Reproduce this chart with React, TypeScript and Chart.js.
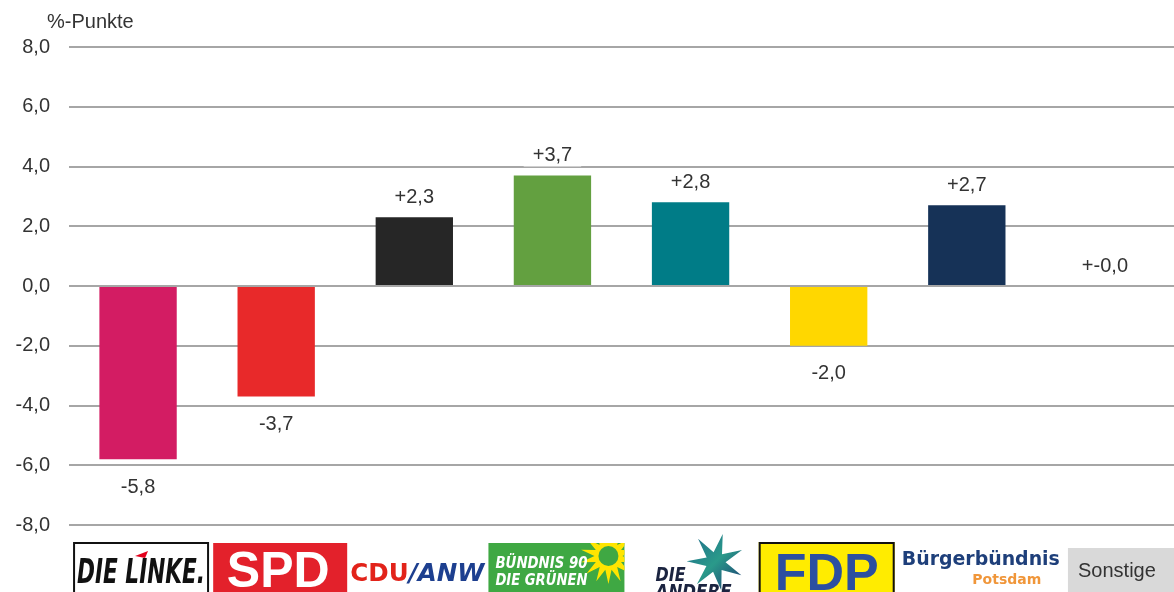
import React, { useEffect, useRef } from 'react';
import { Chart, registerables } from 'chart.js';
Chart.register(...registerables);

const parties = ['DIE LINKE', 'SPD', 'CDU/ANW', 'BÜNDNIS 90/DIE GRÜNEN', 'DIE ANDERE', 'FDP', 'Bürgerbündnis Potsdam', 'Sonstige'];
const changes = [-5.8, -3.7, 2.3, 3.7, 2.8, -2.0, 2.7, 0.0];
const barColors = ['#d31c63', '#e8292a', '#262626', '#63a040', '#007c87', '#ffd700', '#163257', 'rgba(0,0,0,0)'];
const yMin = -8;
const yMax = 8;
const yStep = 2;
const unitLabel = '%-Punkte';

const FONT = "'Liberation Sans', Arial, sans-serif";
const TEXT = '#333333';

const fmt = (v: number) => v.toFixed(1).replace('.', ',');
const valueLabel = (v: number) => (v === 0 ? '+-0,0' : v > 0 ? '+' + fmt(v) : fmt(v));

function fitText(ctx: CanvasRenderingContext2D, text: string, x: number, y: number, maxW: number, align: CanvasTextAlign = 'center') {
  const w = ctx.measureText(text).width;
  const s = w > maxW ? maxW / w : 1;
  ctx.save();
  ctx.translate(x, y);
  ctx.scale(s, 1);
  ctx.textAlign = align;
  ctx.fillText(text, 0, 0);
  ctx.restore();
}

function star(ctx: CanvasRenderingContext2D, cx: number, cy: number, n: number, ro: number, ri: number, rot = -Math.PI / 2) {
  ctx.beginPath();
  for (let i = 0; i < n * 2; i++) {
    const r = i % 2 === 0 ? ro : ri;
    const a = rot + (i * Math.PI) / n;
    const px = cx + Math.cos(a) * r;
    const py = cy + Math.sin(a) * r;
    if (i === 0) ctx.moveTo(px, py);
    else ctx.lineTo(px, py);
  }
  ctx.closePath();
}

function drawLogo(ctx: CanvasRenderingContext2D, i: number, c: number) {
  const top = 542;
  const bot = 594;
  ctx.save();
  ctx.textBaseline = 'middle';
  switch (i) {
    case 0: {
      const x0 = c - 65, x1 = c + 71;
      ctx.fillStyle = '#fff';
      ctx.fillRect(x0, top, x1 - x0, bot - top);
      ctx.strokeStyle = '#111';
      ctx.lineWidth = 2;
      ctx.strokeRect(x0 + 1, top + 1, x1 - x0 - 2, bot - top);
      ctx.fillStyle = '#111';
      ctx.font = `italic bold 34px 'DejaVu Sans Condensed', 'Liberation Sans Narrow', sans-serif`;
      fitText(ctx, 'DIE LINKE.', (x0 + x1) / 2, 574, 128);
      ctx.fillStyle = '#e3001b';
      ctx.beginPath();
      ctx.moveTo(c - 3, 556);
      ctx.lineTo(c + 10, 551);
      ctx.lineTo(c + 7, 558);
      ctx.closePath();
      ctx.fill();
      break;
    }
    case 1: {
      const x0 = c - 63, x1 = c + 71;
      ctx.fillStyle = '#e3212b';
      ctx.fillRect(x0, top + 1, x1 - x0, bot - top);
      ctx.fillStyle = '#fff';
      ctx.font = `bold 50px ${FONT}`;
      fitText(ctx, 'SPD', (x0 + x1) / 2 - 2, 573, 104);
      break;
    }
    case 2: {
      const x0 = c - 64;
      const maxW = 134;
      const f1 = `bold 25px 'DejaVu Sans', sans-serif`;
      const f2 = `italic bold 25px 'DejaVu Sans', sans-serif`;
      ctx.font = f1;
      const w1 = ctx.measureText('CDU').width;
      ctx.font = f2;
      const w2 = ctx.measureText('/ANW').width;
      const s = Math.min(1, maxW / (w1 + w2));
      ctx.translate(x0, 574);
      ctx.scale(s, 1);
      ctx.textAlign = 'left';
      ctx.font = f1;
      ctx.fillStyle = '#e2231a';
      ctx.fillText('CDU', 0, 0);
      ctx.fillStyle = '#1d3f8f';
      ctx.font = f2;
      ctx.fillText('/ANW', w1, 0);
      break;
    }
    case 3: {
      const x0 = c - 64, x1 = c + 72;
      ctx.fillStyle = '#3fa843';
      ctx.fillRect(x0, top + 1, x1 - x0, bot - top);
      ctx.save();
      ctx.beginPath();
      ctx.rect(x0, top + 1, x1 - x0, bot - top);
      ctx.clip();
      ctx.fillStyle = '#ffe500';
      star(ctx, x1 - 16, top + 14, 14, 28, 14);
      ctx.fill();
      ctx.fillStyle = '#3fa843';
      ctx.beginPath();
      ctx.arc(x1 - 16, top + 14, 10, 0, Math.PI * 2);
      ctx.fill();
      ctx.restore();
      ctx.fillStyle = '#fff';
      ctx.font = `italic bold 16px 'DejaVu Sans Condensed', sans-serif`;
      fitText(ctx, 'BÜNDNIS 90', x0 + 7, 564, 92, 'left');
      fitText(ctx, 'DIE GRÜNEN', x0 + 7, 581, 92, 'left');
      break;
    }
    case 4: {
      const sx = c + 25, sy = 562;
      const g = ctx.createLinearGradient(sx - 25, sy - 25, sx + 25, sy + 25);
      g.addColorStop(0, '#1f6f8b');
      g.addColorStop(0.5, '#2a9a8a');
      g.addColorStop(1, '#1d3f73');
      ctx.fillStyle = g;
      star(ctx, sx, sy, 7, 29, 10, -Math.PI / 2 + 0.25);
      ctx.fill();
      ctx.fillStyle = '#1b2440';
      ctx.font = `italic bold 19px 'DejaVu Sans', sans-serif`;
      fitText(ctx, 'DIE', c - 35, 576, 30, 'left');
      fitText(ctx, 'ANDERE', c - 35, 593, 76, 'left');
      break;
    }
    case 5: {
      const x0 = c - 70, x1 = c + 66;
      ctx.fillStyle = '#ffec00';
      ctx.fillRect(x0, top, x1 - x0, bot - top);
      ctx.strokeStyle = '#111';
      ctx.lineWidth = 2;
      ctx.strokeRect(x0 + 1, top + 1, x1 - x0 - 2, bot - top);
      ctx.fillStyle = '#2c4fa0';
      ctx.font = `bold 52px ${FONT}`;
      fitText(ctx, 'FDP', (x0 + x1) / 2, 576, 106);
      break;
    }
    case 6: {
      ctx.fillStyle = '#1e3f7a';
      ctx.font = `bold 20px 'DejaVu Sans', sans-serif`;
      fitText(ctx, 'Bürgerbündnis', c + 14, 560, 158);
      ctx.fillStyle = '#f0963a';
      ctx.font = `bold 14px 'DejaVu Sans', sans-serif`;
      fitText(ctx, 'Potsdam', c + 40, 580, 70);
      break;
    }
    case 7: {
      const x0 = c - 37, x1 = 1176;
      ctx.fillStyle = '#d9d9d9';
      ctx.fillRect(x0, 548, x1 - x0, bot - 548);
      ctx.fillStyle = TEXT;
      ctx.font = `20px ${FONT}`;
      fitText(ctx, 'Sonstige', x0 + 49, 571, 96);
      break;
    }
  }
  ctx.restore();
}

const overlayPlugin = {
  id: 'overlay',
  afterDatasetsDraw(chart: any) {
    const ctx: CanvasRenderingContext2D = chart.ctx;
    const x = chart.scales.x;
    const y = chart.scales.y;
    ctx.save();
    ctx.font = `20px ${FONT}`;
    ctx.textBaseline = 'middle';
    ctx.textAlign = 'center';
    changes.forEach((v, i) => {
      const cx = x.getPixelForValue(i);
      const py = y.getPixelForValue(v);
      const ty = v < 0 ? py + 27 : py - 21;
      const t = valueLabel(v);
      const w = ctx.measureText(t).width;
      ctx.fillStyle = '#fff';
      ctx.fillRect(cx - w / 2 - 9, ty - 12, w + 18, 24);
      ctx.fillStyle = TEXT;
      ctx.fillText(t, cx, ty + 1);
    });
    ctx.textAlign = 'left';
    ctx.fillText(unitLabel, 47, 22);
    changes.forEach((_, i) => drawLogo(ctx, i, x.getPixelForValue(i)));
    ctx.restore();
  },
};

export default function App() {
  const ref = useRef<HTMLCanvasElement>(null);
  useEffect(() => {
    document.body.style.margin = '0';
    const chart = new Chart(ref.current!, {
      type: 'bar',
      data: {
        labels: parties,
        datasets: [
          {
            data: changes,
            backgroundColor: barColors,
            barPercentage: 0.56,
            categoryPercentage: 1,
          },
        ],
      },
      options: {
        animation: false,
        responsive: false,
        layout: { padding: { top: 47, bottom: 67, left: 0, right: -2 } },
        plugins: { legend: { display: false }, tooltip: { enabled: false }, title: { display: false } },
        scales: {
          x: { display: false, grid: { display: false } },
          y: {
            min: yMin,
            max: yMax,
            afterFit: (s: any) => {
              s.width = 69;
            },
            border: { display: false },
            grid: { color: '#a6a6a6', lineWidth: 2, drawTicks: false },
            ticks: {
              stepSize: yStep,
              padding: 19,
              color: TEXT,
              font: { family: FONT, size: 20 },
              callback: (v: any) => fmt(Number(v)),
            },
          },
        },
      },
      plugins: [overlayPlugin],
    });
    return () => chart.destroy();
  }, []);
  return (
    <div style={{ position: 'fixed', left: 0, top: 0, width: 1174, height: 592, background: '#fff' }}>
      <canvas ref={ref} width={1174} height={592} />
    </div>
  );
}
